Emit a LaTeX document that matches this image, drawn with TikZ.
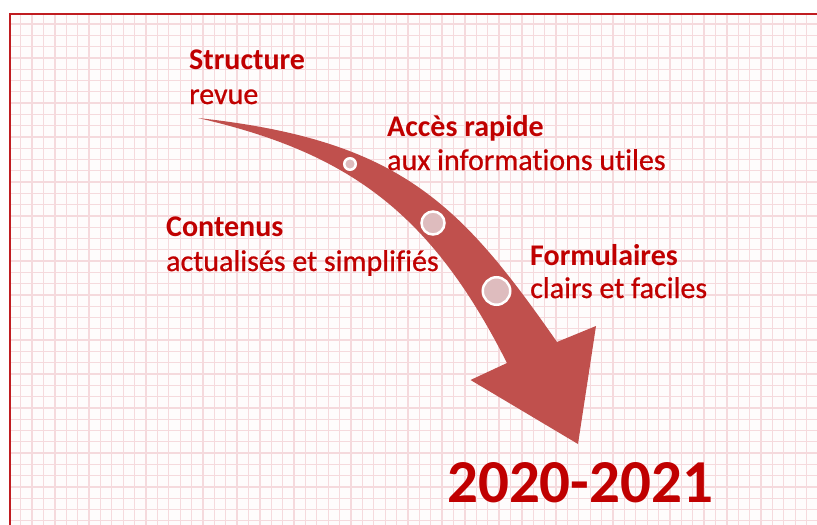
\documentclass[tikz,border=0pt]{standalone}
\usepackage{fontspec}
\setmainfont{Carlito}[Ligatures=NoCommon]
\newfontfamily\subfont{Carlito}[Ligatures=NoCommon,FakeBold=0.7]
\definecolor{txtred}{RGB}{192,0,0}
\definecolor{arrowred}{RGB}{192,80,77}
\definecolor{gridpink}{RGB}{245,218,221}
\definecolor{framered}{RGB}{192,28,32}
\definecolor{dotfill}{RGB}{222,188,190}
\definecolor{paper}{RGB}{254,252,252}
\begin{document}
\begin{tikzpicture}[x=1pt,y=-1pt,
  head/.style={anchor=base west, inner sep=0pt, text=txtred, font=\fontsize{30}{36}\selectfont\bfseries},
  sub/.style={anchor=base west, inner sep=0pt, text=txtred, font=\fontsize{30}{36}\subfont},
  dot/.style={circle, fill=dotfill, draw=white, line width=2.5pt, inner sep=0pt},
  gridline/.style={gridpink, line width=1.3pt}]
\useasboundingbox (0,0) rectangle (817,525);
\fill[white] (0,0) rectangle (817,525);
\fill[paper] (10,14) rectangle (817,525);
\foreach \i in {0,...,69} \draw[gridline] ({20.7+11.39*\i},14) -- ({20.7+11.39*\i},525);
\foreach \j in {0,...,44} \draw[gridline] (10,{24+11.29*\j}) -- (817,{24+11.29*\j});
\draw[framered, line width=2.5pt] (10,525) -- (10,14) -- (817,14);
% curved arrow
\fill[arrowred] (198,118) .. controls (400,140) and (460,203) .. (557,342)
  -- (596,326) -- (578,444) -- (470.5,380) -- (507,363)
  .. controls (430.5,211.7) and (348,152.5) .. (198,118) -- cycle;
\node[dot, minimum size=11.5pt] (d1) at (350,164) {};
\node[dot, minimum size=23pt] (d2) at (433,223) {};
\node[dot, minimum size=27.5pt] (d3) at (496.5,291) {};
% labels
\node[head] (s1) at (189,69) {Structure};
\node[sub] (s2) at (189,104) {revue};
\node[head] (a1) at (387,136) {Accès rapide};
\node[sub] (a2) at (387,170) {aux informations utiles};
\node[head] (c1) at (166,236) {Contenus};
\node[sub] (c2) at (166,271) {actualisés et simplifiés};
\node[head] (f1) at (530,265) {Formulaires};
\node[sub] (f2) at (530,298) {clairs et faciles};
\node[anchor=base west, inner sep=0pt, text=txtred, font=\fontsize{61}{70}\selectfont\bfseries] (yr) at (447,502) {2020-2021};
\end{tikzpicture}
\end{document}
